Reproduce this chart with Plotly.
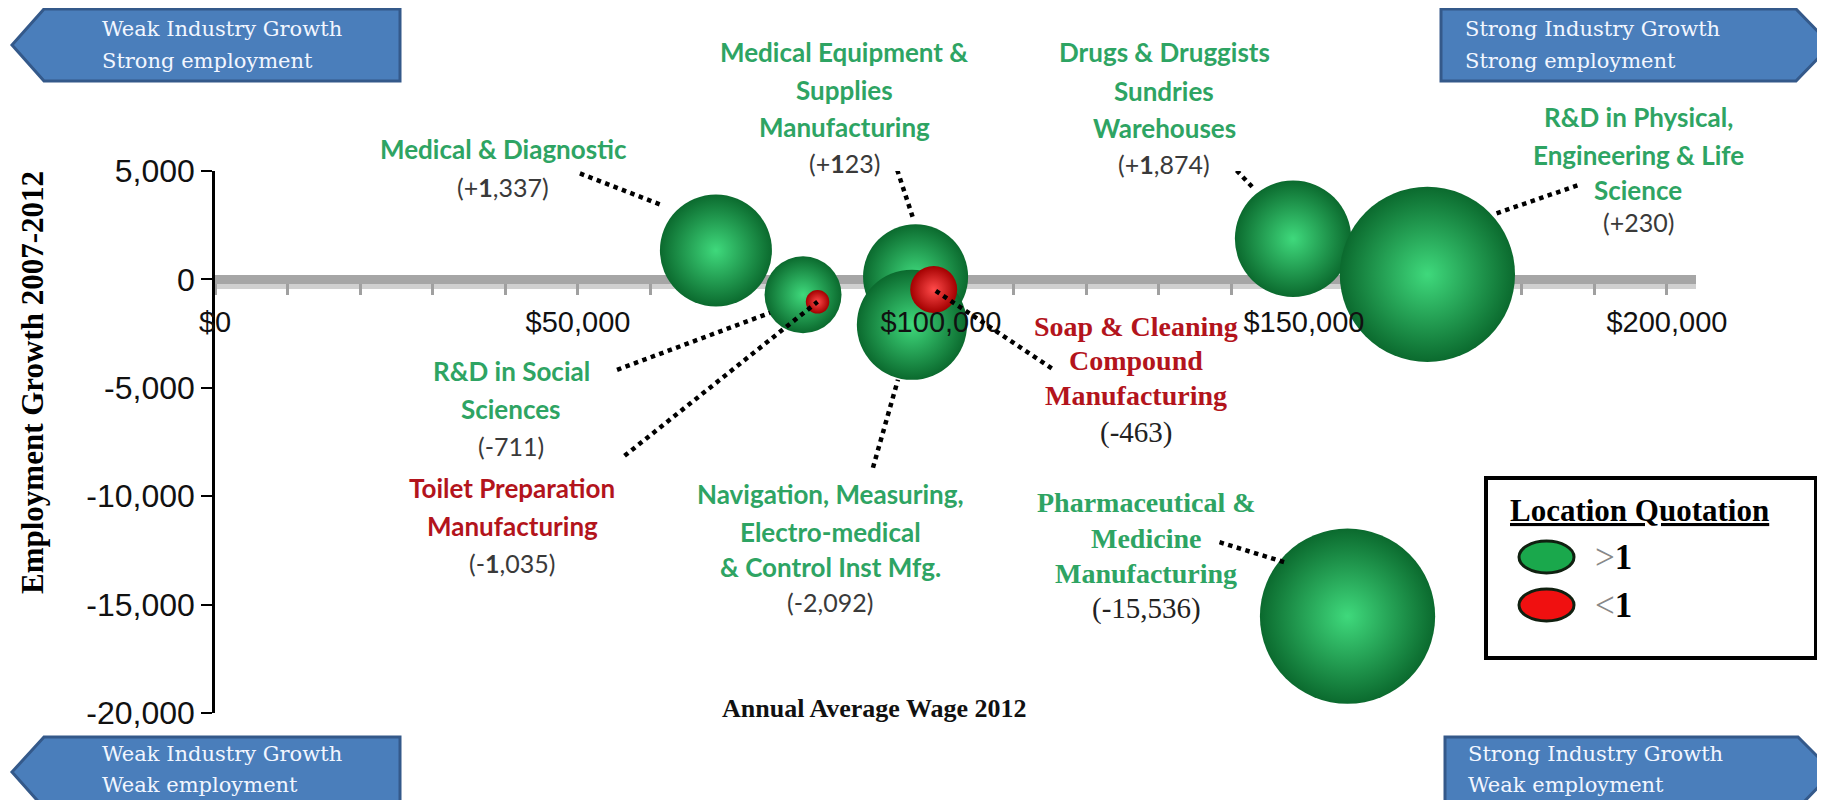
import plotly.graph_objects as go

# ---------------- data ----------------
industries = [
    "Medical & Diagnostic",
    "R&D in Social Sciences",
    "Toilet Preparation Manufacturing",
    "Medical Equipment & Supplies Manufacturing",
    "Navigation, Measuring, Electro-medical & Control Inst Mfg.",
    "Soap & Cleaning Compound Manufacturing",
    "Drugs & Druggists Sundries Warehouses",
    "R&D in Physical, Engineering & Life Science",
    "Pharmaceutical & Medicine Manufacturing",
]
avg_wage_2012 = [69000, 81000, 83000, 96500, 96000, 99000, 148500, 167000, 156000]
emp_growth_2007_2012 = [1337, -711, -1035, 123, -2092, -463, 1874, 230, -15536]
bubble_size = [12.5, 5.9, 0.55, 11.0, 12.1, 2.2, 13.5, 30.6, 30.6]
lq_above_1 = [True, True, False, True, True, False, True, True, True]
y_ticks = [5000, 0, -5000, -10000, -15000, -20000]
legend_items = ["&gt;1", "&lt;1"]
quadrant_labels = [
    ("Weak Industry Growth", "Strong employment"),
    ("Strong Industry Growth", "Strong employment"),
    ("Weak Industry Growth", "Weak employment"),
    ("Strong Industry Growth", "Weak employment"),
]

# ---------------- layout helpers (page pixels -> paper) ----------------
FW, FH = 1825, 800
L, T, W, H = 207, 163, 1481, 542
X_MAX = 204000
Y_MIN, Y_MAX = -20000, 5000


def px(x):
    return (x - L) / W


def py(y):
    return (T + H - y) / H


GREEN_TXT = "#2ea463"
RED_TXT = "#b3141c"
SANS = "Lato"
SERIF = "Liberation Serif"

fig = go.Figure()

# bubbles: green first, red on top
for flag, edge, centre in [(True, "#0b6a2e", "#3fd97c"), (False, "#a30000", "#ff4a4a")]:
    idx = [i for i, f in enumerate(lq_above_1) if f == flag]
    fig.add_trace(go.Scatter(
        x=[avg_wage_2012[i] for i in idx],
        y=[emp_growth_2007_2012[i] for i in idx],
        mode="markers",
        text=[industries[i] for i in idx],
        marker=dict(
            size=[bubble_size[i] for i in idx],
            sizemode="area",
            sizeref=0.001993,
            color=edge,
            gradient=dict(type="radial", color=centre),
            line=dict(width=0),
            opacity=1,
        ),
        showlegend=False,
        hoverinfo="text",
    ))

# invisible trace so the overlay axis (tick labels above bubbles) is drawn
fig.add_trace(go.Scatter(x=[0], y=[0], xaxis="x2", mode="markers",
                         marker=dict(opacity=0), showlegend=False, hoverinfo="skip"))

# label placement (style only): centre x, line y's, number y, font kind
label_layout = [
    dict(lines=["Medical & Diagnostic"], cx=495, ys=[141], ny=179, kind="sans"),
    dict(lines=["R&D in Social", "Sciences"], cx=503, ys=[363, 401], ny=438, kind="sans"),
    dict(lines=["Toilet Preparation", "Manufacturing"], cx=504, ys=[480, 518], ny=555, kind="sans"),
    dict(lines=["Medical Equipment &", "Supplies", "Manufacturing"], cx=836, ys=[44, 82, 119], ny=155, kind="sans"),
    dict(lines=["Navigation, Measuring,", "Electro-medical", "& Control Inst Mfg."], cx=822, ys=[486, 524, 559], ny=594, kind="sans"),
    dict(lines=["Soap & Cleaning", "Compound", "Manufacturing"], cx=1128, ys=[318, 352, 387], ny=424, kind="serif"),
    dict(lines=["Drugs & Druggists", "Sundries", "Warehouses"], cx=1156, ys=[44, 83, 120], ny=156, kind="sans"),
    dict(lines=["R&D in Physical,", "Engineering & Life", "Science"], cx=1630, ys=[109, 147, 182], ny=214, kind="sans"),
    dict(lines=["Pharmaceutical &", "Medicine", "Manufacturing"], cx=1138, ys=[495, 530, 565], ny=600, kind="serif"),
]
# leader offsets in px from bubble centre (x right, y up): start, end
leaders = [
    (-136, 77, -56, 46),
    (-186, -75, -33, -18),
    (-193, -154, 0, 0),
    (-24, 124, -3, 60),
    (-39, -143, -14, -55),
    (118, -79, 0, 0),
    (-75, 88, -40, 51),
    (150, 89, 69, 61),
    (-128, 74, -63, 54),
]

annotations = []
shapes = []


def esc(s):
    return s.replace("&", "&amp;")


for i, lay in enumerate(label_layout):
    colour = GREEN_TXT if lq_above_1[i] else RED_TXT
    if lay["kind"] == "sans":
        f = dict(family=SANS, size=26, color=colour)
        nf = dict(family=SANS, size=25, color="#3a3a3a")
    else:
        f = dict(family=SERIF, size=28, color=colour)
        nf = dict(family=SERIF, size=29, color="#222222")
    for line, yy in zip(lay["lines"], lay["ys"]):
        annotations.append(dict(x=px(lay["cx"]), y=py(yy), xref="paper", yref="paper",
                                text="<b>" + esc(line) + "</b>", showarrow=False,
                                xanchor="center", yanchor="middle", font=f))
    v = emp_growth_2007_2012[i]
    num = f"{v:+,}"
    if lay["kind"] == "sans" and num[1] == "1":
        num = num[0] + "<b>1</b>" + num[2:]
    annotations.append(dict(x=px(lay["cx"]), y=py(lay["ny"]), xref="paper", yref="paper",
                            text="(" + num + ")", showarrow=False, xanchor="center",
                            yanchor="middle", font=nf))
    dx0, dy0, dx1, dy1 = leaders[i]
    shapes.append(dict(type="line", xref="x", yref="y",
                       xsizemode="pixel", xanchor=avg_wage_2012[i], x0=dx0, x1=dx1,
                       ysizemode="pixel", yanchor=v, y0=dy0, y1=dy1,
                       line=dict(color="black", width=4.5, dash="dot"), layer="above"))

# gray 3D axis bar highlight / shadow
shapes.append(dict(type="line", xref="x domain", yref="y", x0=0, x1=1,
                   ysizemode="pixel", yanchor=0, y0=-7, y1=-7,
                   line=dict(color="rgba(120,120,120,0.35)", width=5), layer="below"))
shapes.append(dict(type="line", xref="x domain", yref="y", x0=0, x1=1,
                   ysizemode="pixel", yanchor=0, y0=2, y1=2,
                   line=dict(color="#e2e2e2", width=2), layer="below"))

# corner arrows
ARROW_FILL = "#4a7ebb"
ARROW_LINE = "#34598a"
arrow_boxes = [
    # (points, text left, text y1, text y2)
    ([(4, 37), (36, 1), (392, 1), (392, 73), (36, 73)], 92, 21, 53),
    ([(1433, 1), (1788, 1), (1823, 37), (1788, 73), (1433, 73)], 1455, 21, 53),
    ([(4, 764), (36, 729), (392, 729), (392, 800), (36, 800)], 92, 746, 777),
    ([(1437, 729), (1790, 729), (1825, 764), (1790, 800), (1437, 800)], 1458, 746, 777),
]
for (pts, tx, ty1, ty2), (l1, l2) in zip(arrow_boxes, quadrant_labels):
    path = "M " + " L ".join(f"{px(a):.5f},{py(b):.5f}" for a, b in pts) + " Z"
    shapes.append(dict(type="path", xref="paper", yref="paper", path=path,
                       fillcolor=ARROW_FILL, line=dict(color=ARROW_LINE, width=3), layer="above"))
    for s, yy in [(l1, ty1), (l2, ty2)]:
        annotations.append(dict(x=px(tx), y=py(yy), xref="paper", yref="paper", text=s,
                                showarrow=False, xanchor="left", yanchor="middle",
                                font=dict(family="DejaVu Serif", size=21, color="#f2f6ff")))

# custom legend box
shapes.append(dict(type="rect", xref="paper", yref="paper",
                   x0=px(1478), x1=px(1808), y0=py(650), y1=py(470),
                   line=dict(color="black", width=4), fillcolor="white", layer="above"))
annotations.append(dict(x=px(1500), y=py(503), xref="paper", yref="paper",
                        text="<b><u>Location Quotation</u></b>", showarrow=False,
                        xanchor="left", yanchor="middle",
                        font=dict(family=SERIF, size=31, color="black")))
for (fill, yc), item in zip([("#1aa84c", 549), ("#f01010", 597)], legend_items):
    shapes.append(dict(type="circle", xref="paper", yref="paper",
                       x0=px(1511), x1=px(1566), y0=py(yc + 16), y1=py(yc - 16),
                       fillcolor=fill, line=dict(color="#102010", width=3), layer="above"))
    annotations.append(dict(x=px(1585), y=py(yc), xref="paper", yref="paper",
                            text="<span style='color:#888'>" + item[:4] + "</span><b>" + item[4:] + "</b>",
                            showarrow=False, xanchor="left", yanchor="middle",
                            font=dict(family=SERIF, size=35, color="black")))

# axis titles
annotations.append(dict(x=px(24), y=py(375), xref="paper", yref="paper",
                        text="<b>Employment Growth 2007-2012</b>", textangle=-90,
                        showarrow=False, xanchor="center", yanchor="middle",
                        font=dict(family=SERIF, size=31, color="black")))
annotations.append(dict(x=px(866), y=py(700), xref="paper", yref="paper",
                        text="<b>Annual Average Wage 2012</b>", showarrow=False,
                        xanchor="center", yanchor="middle",
                        font=dict(family=SERIF, size=26, color="#111")))

x_pos = (0 - Y_MIN) / (Y_MAX - Y_MIN)
fig.update_layout(
    width=FW, height=FH, autosize=False,
    margin=dict(l=L, r=FW - L - W, t=T, b=FH - T - H),
    paper_bgcolor="white", plot_bgcolor="white",
    showlegend=False,
    shapes=shapes, annotations=annotations,
    xaxis=dict(range=[0, X_MAX], anchor="free", position=x_pos,
               showline=True, linecolor="#a6a6a6", linewidth=9,
               ticks="outside", ticklen=11, tickwidth=3, tickcolor="#a0a0a0",
               tick0=0, dtick=50000, showticklabels=False,
               minor=dict(dtick=10000, ticks="outside", ticklen=11, tickwidth=3, tickcolor="#a0a0a0"),
               showgrid=False, zeroline=False, layer="below traces"),
    xaxis2=dict(range=[0, X_MAX], overlaying="x", anchor="free", position=x_pos, side="bottom",
                showline=False, ticks="outside", ticklen=11, tickcolor="rgba(0,0,0,0)",
                tick0=0, dtick=50000, tickprefix="$", tickformat=",d",
                ticklabelstandoff=6,
                tickfont=dict(family="Liberation Sans", size=29, color="#111"),
                showgrid=False, zeroline=False, layer="above traces"),
    yaxis=dict(range=[Y_MIN, Y_MAX], tickmode="array", tickvals=y_ticks,
               ticktext=[f"{v:,}" for v in y_ticks],
               showline=True, linecolor="black", linewidth=2.5,
               ticks="outside", ticklen=11, tickwidth=2, tickcolor="black",
               tickfont=dict(family="Liberation Sans", size=32, color="#111"),
               showgrid=False, zeroline=False),
)

fig.write_html("out.html")
